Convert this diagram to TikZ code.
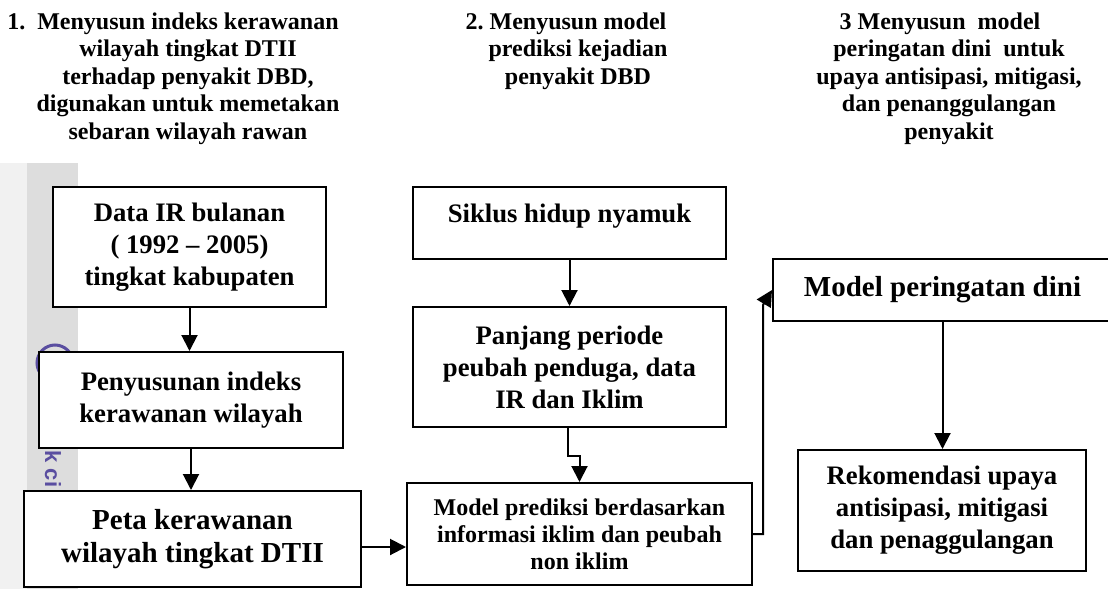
\documentclass[tikz,border=0pt]{standalone}
\usepackage{fontspec}
\setmainfont{Liberation Serif}
\setsansfont{Liberation Sans}
\usetikzlibrary{arrows.meta, positioning, calc}
\definecolor{stripA}{RGB}{241,241,241}
\definecolor{stripB}{RGB}{221,221,221}
\definecolor{wmark}{RGB}{90,78,160}
\tikzset{
    kotak/.style={draw, line width=1pt, fill=white, align=center, inner sep=0pt,
        font=\fontsize{13.35}{16}\selectfont\bfseries},
    kotakB/.style={kotak, font=\fontsize{14.5}{16.5}\selectfont\bfseries},
    kotakK/.style={kotak, font=\fontsize{12}{13.5}\selectfont\bfseries},
    judul/.style={anchor=north, align=center, inner sep=0pt,
        font=\fontsize{12}{13.75}\selectfont\bfseries},
    panah/.style={line width=1pt, -{Triangle[length=8pt, width=8pt]}},
    tanda/.style={rotate=-90, text=wmark, inner sep=0pt,
        font=\sffamily\bfseries\fontsize{11}{11}\selectfont}
}

\begin{document}
\begin{tikzpicture}[x=0.5pt, y=-0.5pt]
    \useasboundingbox (0,0) rectangle (1108,589);
    \clip (0,0) rectangle (1108,589);
    % latar kiri
    \fill[stripA] (0,163) rectangle (27,589);
    \fill[stripB] (27,163) rectangle (78,589);
    \draw[wmark, line width=1.5pt] (55,363) circle (9pt);
    \node[tanda] (tanda) at (53,469) {k ci};
    % judul
    \node[judul] (judul1) at (188,12) {\llap{1.\ \ }Menyusun indeks kerawanan\\wilayah tingkat DTII\\terhadap penyakit DBD,\\digunakan untuk memetakan\\sebaran wilayah rawan};
    \node[judul] (judul2) at (578,12) {\llap{2.\ }Menyusun model\\prediksi kejadian\\penyakit DBD};
    \node[judul] (judul3) at (949,12) {\llap{3\ }Menyusun\ \ model\\peringatan dini\ \ untuk\\upaya antisipasi, mitigasi,\\dan penanggulangan\\penyakit};
    % kolom 1
    \node[kotak, minimum width=136.5pt, minimum height=60pt] (data) at (189.5,247) {Data IR bulanan\\( 1992 -- 2005)\\tingkat kabupaten};
    \node[kotak, minimum width=152pt, minimum height=48pt] (indeks) at (191,400) {Penyusunan indeks\\kerawanan wilayah};
    \node[kotakB, minimum width=168.5pt, minimum height=48pt] (peta) at (192.5,539) {Peta kerawanan\\wilayah tingkat DTII};
    % kolom 2
    \node[kotak, align=left, text depth=10pt, minimum width=156.5pt, minimum height=36pt] (siklus) at (569.5,223) {Siklus hidup nyamuk};
    \node[kotak, minimum width=156.5pt, minimum height=60pt] (panjang) at (569.5,367) {Panjang periode\\peubah penduga, data\\IR dan Iklim};
    \node[kotakK, minimum width=172.5pt, minimum height=51pt] (prediksi) at (579.5,534) {Model prediksi berdasarkan\\informasi iklim dan peubah\\non iklim};
    % kolom 3
    \node[kotakB, minimum width=169.5pt, minimum height=31pt] (dini) at (942.5,290) {Model peringatan dini};
    \node[kotak, minimum width=144pt, minimum height=60.5pt] (rekomendasi) at (942,510.5) {Rekomendasi upaya\\antisipasi, mitigasi\\dan penaggulangan};
    \coordinate (belok) at (763,305);
    % panah
    \draw[panah] (data.south) -- (data.south |- indeks.north);
    \draw[panah] (indeks.south) -- (indeks.south |- peta.north);
    \draw[panah] ([yshift=-4pt]peta.east) -- ([yshift=-4pt]peta.east -| prediksi.west);
    \draw[panah] (siklus.south) -- (panjang.north);
    \draw[panah] ([xshift=-0.75pt]panjang.south) -- ++(0,-14pt) -| (prediksi.north);
    \draw[panah] (prediksi.east) -| (belok) -- (dini.west);
    \draw[panah] (dini.south) -- (dini.south |- rekomendasi.north);
\end{tikzpicture}
\end{document}
